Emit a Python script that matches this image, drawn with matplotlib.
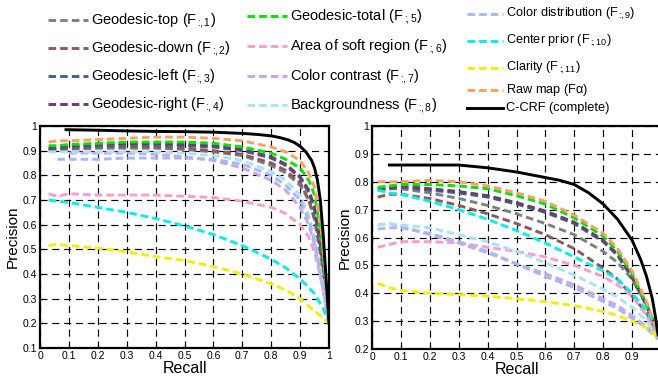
import matplotlib
matplotlib.use("Agg")
import matplotlib.pyplot as plt
from matplotlib.lines import Line2D
import numpy as np

plt.rcParams['font.family'] = ['Liberation Sans', 'DejaVu Sans']
plt.rcParams['mathtext.fontset'] = 'custom'
plt.rcParams['mathtext.rm'] = 'Liberation Sans'
plt.rcParams['mathtext.it'] = 'Liberation Sans'

nan = np.nan

# subscript like ":,1" (negative space undoes the relation spacing after ':')
def sub(k):
    return 'F$_{:\\!\\!,%s}$' % k

# series names (legend order)
names = ['Geodesic-top (%s)' % sub(1), 'Geodesic-down (%s)' % sub(2),
         'Geodesic-left (%s)' % sub(3), 'Geodesic-right (%s)' % sub(4),
         'Geodesic-total (%s)' % sub(5), 'Area of soft region (%s)' % sub(6),
         'Color contrast (%s)' % sub(7), 'Backgroundness (%s)' % sub(8),
         'Color distribution (%s)' % sub(9), 'Center prior (%s)' % sub(10),
         'Clarity (%s)' % sub(11), 'Raw map (F$\\alpha$)', 'C-CRF (complete)']
colors = ['#808080', '#8c5a5a', '#40609c', '#6a3f6a', '#00e600', '#ff9cc8',
          '#c8a4f4', '#a8e4f4', '#a8b8f4', '#00f0f0', '#f0f000', '#ffa060', '#000000']

# ---- left chart ----
left_recall = [0.03, 0.06, 0.1, 0.2, 0.3, 0.4, 0.5, 0.6, 0.7, 0.8, 0.85, 0.9, 0.93, 0.95, 0.97, 0.98, 0.99, 1.0]
left_geo_top = [0.90, 0.90, 0.905, 0.91, 0.91, 0.91, 0.905, 0.895, 0.88, 0.84, 0.81, 0.76, 0.70, 0.63, 0.50, 0.42, 0.32, 0.20]
left_geo_down = [0.905, 0.905, 0.91, 0.915, 0.915, 0.915, 0.91, 0.90, 0.885, 0.85, 0.82, 0.77, 0.70, 0.62, 0.48, 0.40, 0.30, 0.20]
left_geo_left = [0.91, 0.91, 0.915, 0.92, 0.925, 0.925, 0.92, 0.915, 0.90, 0.87, 0.84, 0.79, 0.73, 0.66, 0.52, 0.43, 0.32, 0.20]
left_geo_right = [0.91, 0.915, 0.92, 0.925, 0.93, 0.93, 0.925, 0.92, 0.905, 0.875, 0.845, 0.795, 0.74, 0.67, 0.53, 0.44, 0.33, 0.20]
left_geo_total = [0.92, 0.92, 0.925, 0.93, 0.935, 0.935, 0.935, 0.93, 0.915, 0.89, 0.865, 0.83, 0.78, 0.72, 0.58, 0.47, 0.34, 0.20]
left_soft = [0.725, 0.715, 0.725, 0.72, 0.72, 0.72, 0.715, 0.71, 0.695, 0.67, 0.645, 0.60, 0.55, 0.49, 0.39, 0.33, 0.26, 0.20]
left_contrast = [nan, nan, 0.89, 0.89, 0.89, 0.885, 0.875, 0.86, 0.83, 0.78, 0.74, 0.67, 0.60, 0.52, 0.40, 0.34, 0.27, 0.20]
left_backgr = [0.895, 0.895, 0.895, 0.895, 0.895, 0.895, 0.89, 0.88, 0.86, 0.815, 0.78, 0.72, 0.64, 0.55, 0.42, 0.35, 0.27, 0.20]
left_distrib = [nan, 0.865, 0.865, 0.865, 0.87, 0.87, 0.87, 0.865, 0.845, 0.80, 0.76, 0.70, 0.62, 0.53, 0.41, 0.34, 0.27, 0.20]
left_center = [0.70, 0.695, 0.69, 0.67, 0.65, 0.625, 0.595, 0.56, 0.515, 0.46, 0.425, 0.38, 0.345, 0.32, 0.28, 0.26, 0.23, 0.20]
left_clarity = [0.515, 0.52, 0.515, 0.505, 0.49, 0.47, 0.455, 0.43, 0.40, 0.36, 0.335, 0.30, 0.27, 0.25, 0.23, 0.22, 0.21, 0.20]
left_raw = [0.935, 0.94, 0.94, 0.945, 0.95, 0.955, 0.955, 0.95, 0.94, 0.915, 0.895, 0.86, 0.81, 0.75, 0.62, 0.50, 0.35, 0.20]
# C-CRF is read on its own, denser recall points
left_ccrf_recall = [0.09, 0.2, 0.3, 0.4, 0.5, 0.6, 0.7, 0.75, 0.8, 0.83, 0.86, 0.88, 0.9, 0.92, 0.94, 0.95, 0.96, 0.97, 0.98, 0.99, 1.0]
left_ccrf = [0.985, 0.983, 0.98, 0.978, 0.977, 0.975, 0.97, 0.966, 0.96, 0.953, 0.943, 0.933, 0.918, 0.895, 0.86, 0.83, 0.78, 0.70, 0.56, 0.38, 0.20]

# ---- right chart ----
right_recall = [0.02, 0.06, 0.1, 0.2, 0.3, 0.4, 0.5, 0.6, 0.7, 0.8, 0.85, 0.9, 0.95, 0.98, 0.99]
right_geo_top = [0.77, 0.775, 0.775, 0.76, 0.74, 0.715, 0.685, 0.65, 0.61, 0.55, 0.51, 0.45, 0.36, 0.28, 0.25]
right_geo_down = [0.745, 0.755, 0.755, 0.74, 0.715, 0.685, 0.65, 0.61, 0.56, 0.49, 0.45, 0.39, 0.33, 0.27, 0.24]
right_geo_left = [0.77, 0.775, 0.78, 0.77, 0.76, 0.745, 0.72, 0.69, 0.65, 0.585, 0.535, 0.455, 0.355, 0.28, 0.25]
right_geo_right = [0.775, 0.78, 0.785, 0.775, 0.765, 0.75, 0.725, 0.695, 0.655, 0.59, 0.54, 0.46, 0.36, 0.28, 0.25]
right_geo_total = [0.78, 0.785, 0.79, 0.79, 0.785, 0.775, 0.75, 0.72, 0.67, 0.605, 0.55, 0.47, 0.36, 0.28, 0.25]
right_soft = [0.565, 0.575, 0.585, 0.585, 0.58, 0.565, 0.55, 0.53, 0.50, 0.46, 0.43, 0.39, 0.32, 0.26, 0.24]
right_contrast = [0.645, 0.65, 0.64, 0.61, 0.58, 0.545, 0.505, 0.47, 0.43, 0.38, 0.355, 0.32, 0.28, 0.25, 0.235]
right_backgr = [0.645, 0.65, 0.645, 0.635, 0.61, 0.585, 0.55, 0.51, 0.465, 0.415, 0.385, 0.35, 0.30, 0.26, 0.24]
right_distrib = [0.63, 0.635, 0.635, 0.615, 0.585, 0.55, 0.505, 0.46, 0.42, 0.37, 0.345, 0.31, 0.275, 0.245, 0.235]
right_center = [0.77, 0.76, 0.755, 0.73, 0.70, 0.665, 0.625, 0.58, 0.53, 0.48, 0.45, 0.40, 0.34, 0.28, 0.25]
right_clarity = [0.435, 0.42, 0.41, 0.40, 0.395, 0.39, 0.38, 0.37, 0.355, 0.335, 0.32, 0.30, 0.275, 0.25, 0.235]
right_raw = [0.80, 0.80, 0.80, 0.805, 0.80, 0.785, 0.76, 0.73, 0.68, 0.615, 0.56, 0.48, 0.37, 0.28, 0.25]
right_ccrf_recall = [0.06, 0.1, 0.2, 0.3, 0.4, 0.5, 0.6, 0.65, 0.7, 0.75, 0.8, 0.85, 0.9, 0.93, 0.95, 0.97, 0.98, 0.99]
right_ccrf = [0.86, 0.86, 0.86, 0.86, 0.85, 0.835, 0.815, 0.805, 0.79, 0.76, 0.72, 0.665, 0.59, 0.52, 0.46, 0.38, 0.32, 0.25]

left_series = [left_geo_top, left_geo_down, left_geo_left, left_geo_right, left_geo_total,
               left_soft, left_contrast, left_backgr, left_distrib, left_center,
               left_clarity, left_raw]
right_series = [right_geo_top, right_geo_down, right_geo_left, right_geo_right, right_geo_total,
                right_soft, right_contrast, right_backgr, right_distrib, right_center,
                right_clarity, right_raw]

xticks = [0, 0.1, 0.2, 0.3, 0.4, 0.5, 0.6, 0.7, 0.8, 0.9, 1]
left_xtick_labels = ['0', '0.1', '0.2', '0.3', '0.4', '0.5', '0.6', '0.7', '0.8', '0.9', '1']
right_xtick_labels = ['0', '0.1', '0.2', '0.3', '0.4', '0.5', '0.6', '0.7', '0.8', '0.9', '']
left_yticks = [0.1, 0.2, 0.3, 0.4, 0.5, 0.6, 0.7, 0.8, 0.9, 1]
right_yticks = [0.2, 0.3, 0.4, 0.5, 0.6, 0.7, 0.8, 0.9, 1]

W, H = 658, 379
fig = plt.figure(figsize=(W / 100, H / 100), dpi=100)

dash = (0, (2.6, 1.4))


def draw(ax, recall, series, ccrf_x, ccrf_y, yticks, xlabels):
    ax.set_xlim(0, 1)
    ax.set_ylim(yticks[0], 1)
    for ys, c in zip(series, colors[:-1]):
        ax.plot(recall, ys, color=c, lw=2.1, linestyle=dash)
    ax.plot(ccrf_x, ccrf_y, color='black', lw=2.1)
    ax.set_xticks(xticks)
    ax.set_xticklabels(xlabels)
    ax.set_yticks(yticks)
    ax.set_yticklabels([('%g' % v) for v in yticks])
    ax.grid(True, color='black', lw=0.85, linestyle=(0, (6, 4)))
    ax.tick_params(direction='in', length=3, labelsize=7.5, pad=2)
    for s in ax.spines.values():
        s.set_linewidth(1.6)
    ax.set_xlabel('Recall', fontsize=11.5, labelpad=0)
    ax.set_ylabel('Precision', fontsize=11, labelpad=2)


ax1 = fig.add_axes([40 / W, 31 / H, 289 / W, 222 / H])
draw(ax1, left_recall, left_series, left_ccrf_recall, left_ccrf, left_yticks, left_xtick_labels)
ax2 = fig.add_axes([372 / W, 30 / H, 289 / W, 223 / H])
draw(ax2, right_recall, right_series, right_ccrf_recall, right_ccrf, right_yticks, right_xtick_labels)

# legend, three columns built by hand
cols = [
    (48, 88, 91, [20, 48, 76, 104], 10.5, range(0, 4)),
    (247, 287, 290, [16, 46, 76, 105], 10.5, range(4, 8)),
    (467, 503, 506, [14, 41, 68, 90, 108], 9.2, range(8, 13)),
]
for x0, x1, tx, rows, fs, idxs in cols:
    for y, i in zip(rows, idxs):
        ls = '-' if i == 12 else dash
        fig.add_artist(Line2D([x0 / W, x1 / W], [1 - y / H, 1 - y / H],
                              color=colors[i], lw=2.1, linestyle=ls,
                              transform=fig.transFigure))
        fig.text(tx / W, 1 - y / H, names[i], fontsize=fs, va='center', ha='left')

fig.savefig('out.png', dpi=100)
